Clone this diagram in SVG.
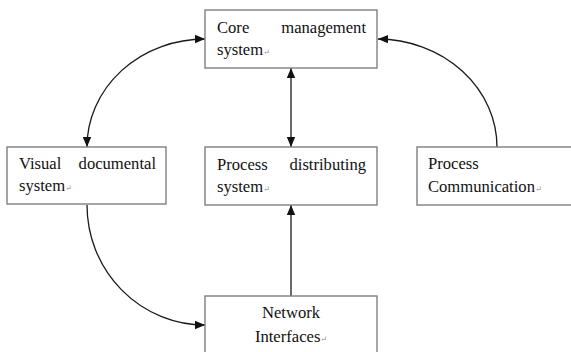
<svg xmlns="http://www.w3.org/2000/svg" width="571" height="352" viewBox="0 0 571 352">
<style>
.box{fill:#fff;stroke:#7f7f7f;stroke-width:1.4}
text{font-family:'Liberation Serif','Times New Roman','DejaVu Serif',serif;font-size:16.6px;fill:#111}
.pm{font-size:8px;fill:#888}
.c{fill:none;stroke:#1a1a1a;stroke-width:1.3}
</style>
<defs>
<marker id="ah" viewBox="0 0 10 10" refX="10" refY="5" markerWidth="10" markerHeight="10" markerUnits="userSpaceOnUse" orient="auto-start-reverse">
<path d="M0,0.8 L10,5 L0,9.2 z" fill="#111"/>
</marker>
</defs>
<rect width="571" height="352" fill="#fff"/>
<g id="connectors">
<path class="c" d="M87 147 A118 108 0 0 1 205 39" marker-start="url(#ah)" marker-end="url(#ah)"/>
<path class="c" d="M497 147 A120 108 0 0 0 378 39" marker-end="url(#ah)"/>
<path class="c" d="M87 205 A118 120 0 0 0 205 325" marker-end="url(#ah)"/>
<line class="c" x1="291" y1="68" x2="291" y2="147" marker-start="url(#ah)" marker-end="url(#ah)"/>
<line class="c" x1="291" y1="296" x2="291" y2="205" marker-end="url(#ah)"/>
</g>
<g id="core">
<rect class="box" x="205" y="10" width="172" height="58"/>
<text x="217" y="33">Core</text>
<text x="366" y="33" text-anchor="end">management</text>
<text x="217" y="55">system<tspan class="pm">↵</tspan></text>
</g>
<g id="visual">
<rect class="box" x="7" y="147" width="159" height="57"/>
<text x="19" y="169">Visual</text>
<text x="156" y="169" text-anchor="end">documental</text>
<text x="19" y="191">system<tspan class="pm">↵</tspan></text>
</g>
<g id="distributing">
<rect class="box" x="205" y="147" width="172" height="58"/>
<text x="217" y="170">Process</text>
<text x="366" y="170" text-anchor="end">distributing</text>
<text x="217" y="192">system<tspan class="pm">↵</tspan></text>
</g>
<g id="communication">
<rect class="box" x="417" y="147" width="160" height="58"/>
<text x="428" y="169">Process</text>
<text x="428" y="192">Communication<tspan class="pm">↵</tspan></text>
</g>
<g id="network">
<rect class="box" x="205" y="296" width="172" height="62"/>
<text x="291" y="318" text-anchor="middle">Network</text>
<text x="291" y="342" text-anchor="middle">Interfaces<tspan class="pm">↵</tspan></text>
</g>
</svg>
